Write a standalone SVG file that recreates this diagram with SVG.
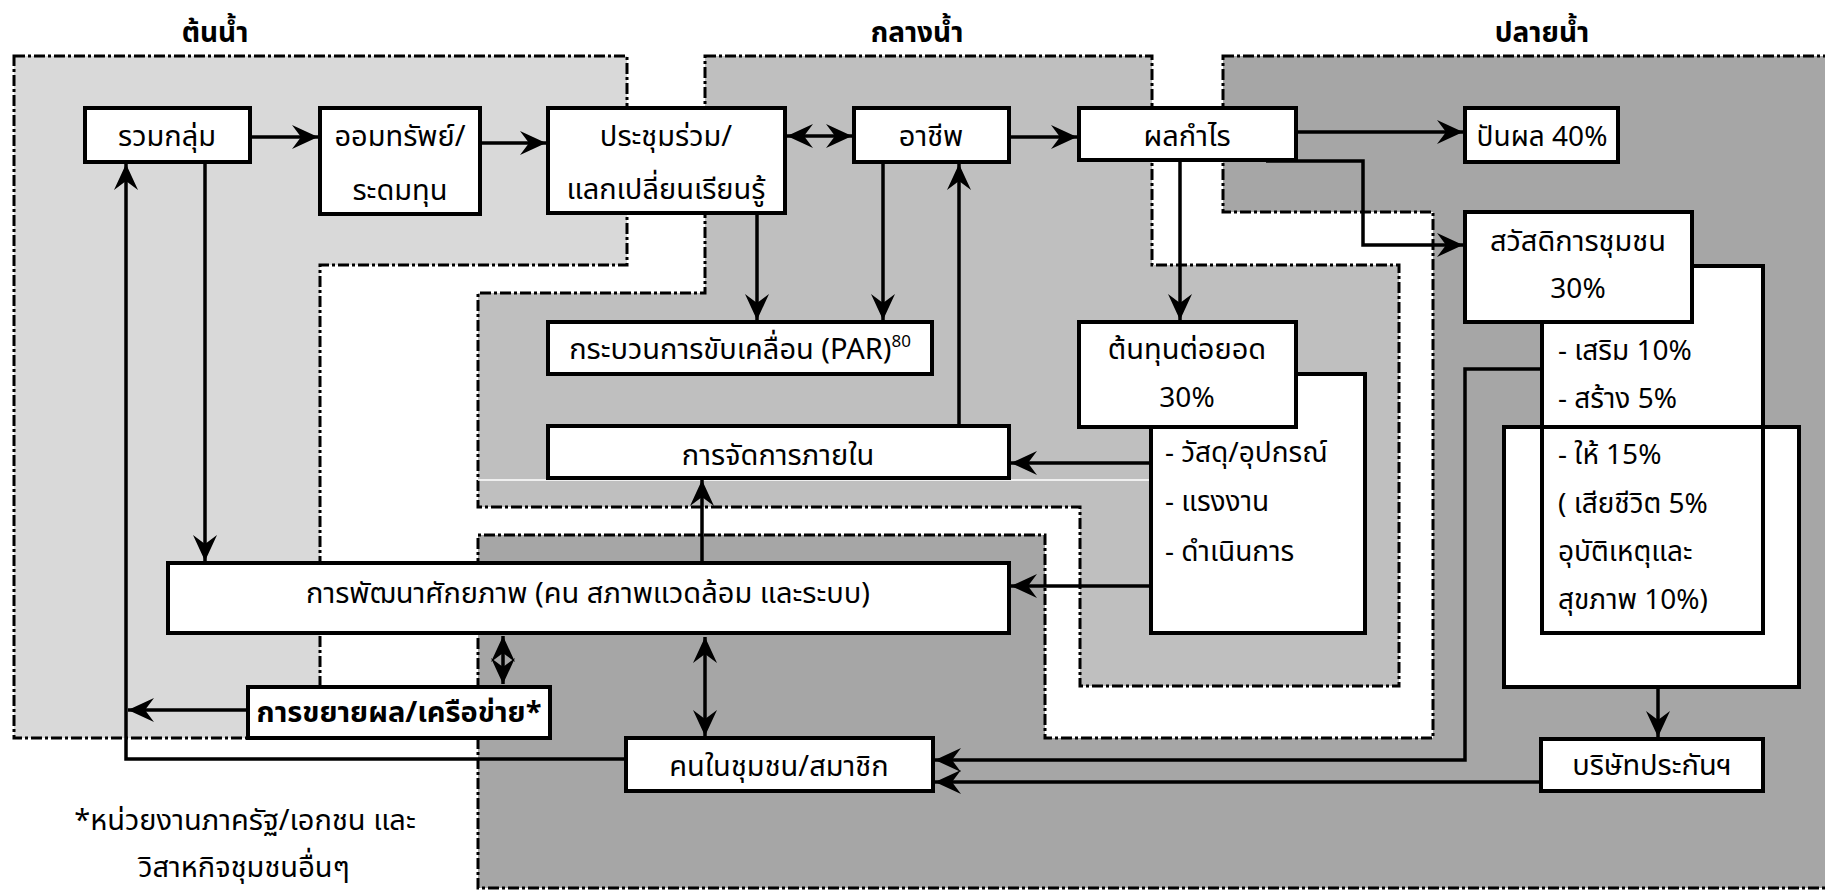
<svg xmlns="http://www.w3.org/2000/svg" width="1825" height="890" viewBox="0 0 1825 890">
<style>
text{font-family:"Noto Sans Thai","Noto Sans Thai UI","Noto Sans","DejaVu Sans",sans-serif;font-size:29px;fill:#000}
.t{font-weight:bold;text-anchor:middle;font-size:28px}
.c{text-anchor:middle}
.l{font-size:28px}
.zone{stroke:#000;stroke-width:3;stroke-dasharray:11 3 3 3}
.box{fill:#fff;stroke:#000;stroke-width:4}
.ln{fill:none;stroke:#000;stroke-width:3.5}
.a{marker-end:url(#ah)}
.aa{marker-end:url(#ah);marker-start:url(#ah)}
</style>
<defs>
<marker id="ah" markerUnits="userSpaceOnUse" markerWidth="30" markerHeight="30" viewBox="-28 -14 30 28" refX="0" refY="0" orient="auto-start-reverse">
<path d="M0,0 L-26,-12 L-17,0 L-26,12 Z" fill="#000"/>
</marker>
</defs>
<rect width="1825" height="890" fill="#fff"/>
<g id="zones">
<path class="zone" fill="#d9d9d9" d="M14,56 H627 V265 H320 V738 H14 Z"/>
<path class="zone" fill="#bfbfbf" d="M705,56 H1152 V265 H1399 V686 H1080 V507 H478 V293 H705 Z"/>
<path class="zone" fill="#a6a6a6" d="M1223,56 H1835 V888 H478 V535 H1045 V738 H1433 V212 H1223 Z"/>
<line x1="478" y1="480" x2="1151" y2="480" stroke="#fff" stroke-width="1.5"/>
</g>
<g id="titles">
<text class="t" x="215" y="42">ต้นน้ำ</text>
<text class="t" x="917" y="42">กลางน้ำ</text>
<text class="t" x="1542" y="42">ปลายน้ำ</text>
</g>
<g id="connectors">
<line class="ln a" x1="250" y1="137" x2="318" y2="137"/>
<line class="ln a" x1="480" y1="143" x2="546" y2="143"/>
<line class="ln aa" x1="787" y1="136" x2="852" y2="136"/>
<line class="ln a" x1="1011" y1="137" x2="1077" y2="137"/>
<line class="ln a" x1="1298" y1="132" x2="1463" y2="132"/>
<path class="ln a" d="M1266,161 H1363 V245 H1463"/>
<line class="ln a" x1="757" y1="213" x2="757" y2="320"/>
<line class="ln a" x1="883" y1="162" x2="883" y2="320"/>
<line class="ln a" x1="1180" y1="160" x2="1180" y2="320"/>
<line class="ln a" x1="959" y1="424" x2="959" y2="164"/>
<line class="ln a" x1="1151" y1="463" x2="1011" y2="463"/>
<line class="ln a" x1="1151" y1="586" x2="1011" y2="586"/>
<line class="ln a" x1="702" y1="561" x2="702" y2="480"/>
<line class="ln a" x1="205" y1="162" x2="205" y2="561"/>
<path class="ln a" d="M626,759 H126 V164"/>
<line class="ln a" x1="248" y1="710" x2="128" y2="710"/>
<line class="ln aa" x1="503" y1="636" x2="503" y2="684"/>
<line class="ln aa" x1="705" y1="637" x2="705" y2="736"/>
<path class="ln a" d="M1542,369 H1465 V760 H935"/>
<line class="ln a" x1="1541" y1="782" x2="935" y2="782"/>
<line class="ln a" x1="1658" y1="687" x2="1658" y2="737"/>
</g>
<g id="n-ruamklum"><rect class="box" x="85" y="108" width="165" height="54"/><text class="c" x="167" y="146">รวมกลุ่ม</text></g>
<g id="n-omsap"><rect class="box" x="320" y="108" width="160" height="106"/><text class="c" x="400" y="146">ออมทรัพย์/</text><text class="c" x="400" y="200">ระดมทุน</text></g>
<g id="n-prachum"><rect class="box" x="548" y="108" width="237" height="105"/><text class="c" x="666" y="146">ประชุมร่วม/</text><text class="c" x="666" y="199">แลกเปลี่ยนเรียนรู้</text></g>
<g id="n-achip"><rect class="box" x="854" y="108" width="155" height="54"/><text class="c" x="931" y="146">อาชีพ</text></g>
<g id="n-phonkamrai"><rect class="box" x="1079" y="108" width="217" height="52"/><text class="c" x="1187" y="146">ผลกำไร</text></g>
<g id="n-panphon"><rect class="box" x="1465" y="108" width="153" height="54"/><text class="c l" x="1542" y="146">ปันผล 40%</text></g>
<g id="n-par"><rect class="box" x="548" y="322" width="384" height="52"/><text class="c" x="740" y="359">กระบวนการขับเคลื่อน (PAR)<tspan font-size="17" dy="-12">80</tspan></text></g>
<g id="n-jatkan"><rect class="box" x="548" y="426" width="461" height="52"/><text class="c" x="778" y="465">การจัดการภายใน</text></g>
<g id="n-tonthun-list"><rect class="box" x="1151" y="374" width="214" height="259"/><text class="l" x="1165" y="462">- วัสดุ/อุปกรณ์</text><text class="l" x="1165" y="511">- แรงงาน</text><text class="l" x="1165" y="561">- ดำเนินการ</text></g>
<g id="n-tonthun"><rect class="box" x="1079" y="322" width="217" height="105"/><text class="c" x="1187" y="359">ต้นทุนต่อยอด</text><text class="c l" x="1187" y="407">30%</text></g>
<g id="n-sawatdikan-list">
<rect x="1504" y="427" width="295" height="260" fill="#fff"/>
<rect class="box" x="1542" y="266" width="221" height="367"/>
<rect x="1504" y="427" width="295" height="260" fill="none" stroke="#000" stroke-width="4"/>
<text class="l" x="1558" y="360">- เสริม 10%</text>
<text class="l" x="1558" y="408">- สร้าง 5%</text>
<text class="l" x="1558" y="464">- ให้ 15%</text>
<text class="l" x="1558" y="513">( เสียชีวิต 5%</text>
<text class="l" x="1558" y="561">อุบัติเหตุและ</text>
<text class="l" x="1558" y="609">สุขภาพ 10%)</text>
</g>
<g id="n-sawatdikan"><rect class="box" x="1465" y="212" width="227" height="110"/><text class="c" x="1578" y="251">สวัสดิการชุมชน</text><text class="c l" x="1578" y="298">30%</text></g>
<g id="n-phatthana"><rect class="box" x="168" y="563" width="841" height="70"/><text class="c" x="588" y="603">การพัฒนาศักยภาพ (คน สภาพแวดล้อม และระบบ)</text></g>
<g id="n-khayai"><rect class="box" x="248" y="687" width="302" height="51"/><text class="c" x="399" y="722" font-weight="bold" font-size="28">การขยายผล/เครือข่าย*</text></g>
<g id="n-khonchumchon"><rect class="box" x="626" y="738" width="307" height="53"/><text class="c" x="779" y="776">คนในชุมชน/สมาชิก</text></g>
<g id="n-borisat"><rect class="box" x="1541" y="739" width="222" height="52"/><text class="c" x="1652" y="775">บริษัทประกันฯ</text></g>
<g id="footnote"><text class="c" x="245" y="830">*หน่วยงานภาครัฐ/เอกชน และ</text><text class="c" x="244" y="877">วิสาหกิจชุมชนอื่นๆ</text></g>
</svg>
